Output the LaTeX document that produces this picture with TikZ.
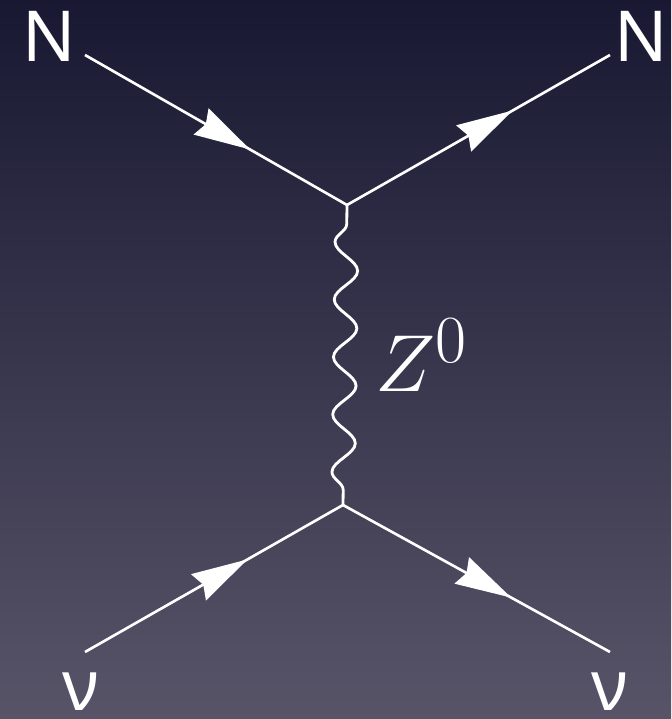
\documentclass[tikz,border=0pt]{standalone}
\usepackage{fontspec}
\setsansfont{Noto Sans}
\usetikzlibrary{arrows.meta,decorations.pathmorphing,decorations.markings}
\definecolor{bgtop}{RGB}{24,24,50}
\definecolor{bgbot}{RGB}{88,84,104}

\begin{document}
\begin{tikzpicture}[>=Stealth,
  fermion/.style={draw=white, line width=1.5pt, postaction={decorate},
    decoration={markings, mark=at position 0.63 with {\arrow[white]{Stealth[length=32pt, width=17pt, inset=3pt]}}}},
  boson/.style={draw=white, line width=1.6pt, decorate,
    decoration={snake, segment length=1.15cm, amplitude=0.23cm, pre length=0.3cm, post length=0.3cm}},
  lab/.style={text=white, inner sep=0pt, font=\sffamily\fontsize{40}{40}\selectfont}]
\fill[top color=bgtop, bottom color=bgbot] (0,0) rectangle (13.42,14.38);
\useasboundingbox (0,0) rectangle (13.42,14.38);
\coordinate (vtop) at (6.94,10.28);
\coordinate (vbot) at (6.86,4.28);
\coordinate (nin) at (1.70,13.28);
\coordinate (nout) at (12.20,13.28);
\coordinate (nuin) at (1.70,1.34);
\coordinate (nuout) at (12.20,1.34);
\draw[fermion] (nin) -- (vtop);
\draw[fermion] (vtop) -- (nout);
\draw[fermion] (nuin) -- (vbot);
\draw[fermion] (vbot) -- (nuout);
\draw[boson] (vbot) -- (vtop);
\node[lab, anchor=base] (ninlab) at (0.98,13.14) {N};
\node[lab, anchor=base] (noutlab) at (12.82,13.14) {N};
\node[lab, anchor=base] (nuinlab) at (1.62,0.16) {ν};
\node[lab, anchor=base] (nuoutlab) at (12.20,0.16) {ν};
\node[text=white, inner sep=0pt, anchor=base west, font=\Huge, scale=1.85] (zlab) at (7.50,6.54) {$Z^0$};
\end{tikzpicture}
\end{document}
